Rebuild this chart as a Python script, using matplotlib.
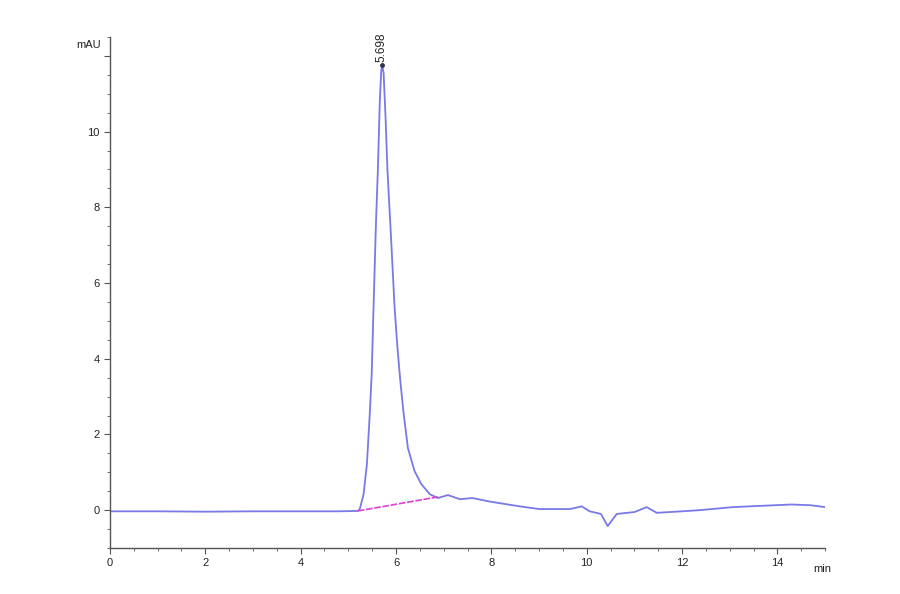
import numpy as np
import matplotlib.pyplot as plt
from matplotlib.ticker import MultipleLocator

t = [0.0, 1.0, 2.0, 3.0, 4.0, 4.8, 5.2, 5.24, 5.32, 5.39, 5.45, 5.49, 5.53,
     5.58, 5.62, 5.66, 5.69, 5.71, 5.74, 5.78, 5.82, 5.9, 5.97, 6.03, 6.09,
     6.16, 6.25, 6.39, 6.53, 6.71, 6.88, 7.09, 7.2, 7.34, 7.6, 8.0,
     8.6, 9.0, 9.65, 9.9, 10.06, 10.3, 10.44, 10.63, 11.0, 11.26, 11.47,
     12.0, 12.37, 13.06, 13.4, 14.3, 14.7, 15.0]
mau = [-0.03, -0.03, -0.04, -0.03, -0.03, -0.03, -0.02, 0.03, 0.42, 1.22,
       2.55, 3.6, 5.4, 7.6, 9.0, 10.8, 11.6, 11.75, 11.55, 10.4, 9.0, 7.1,
       5.36, 4.3, 3.42, 2.55, 1.64, 1.03, 0.69, 0.42, 0.32, 0.4,
       0.35, 0.29, 0.32, 0.22, 0.1, 0.03, 0.03, 0.1, -0.03, -0.1, -0.42,
       -0.1, -0.05, 0.08, -0.07, -0.03, 0.0, 0.08, 0.1, 0.15, 0.13, 0.08]

# linea base de integracion
base_t = [5.2, 6.88]
base_y = [-0.02, 0.35]

pico_t = 5.698
pico_y = 11.75

fig = plt.figure(figsize=(9, 5.94), dpi=100)
ax = fig.add_axes([0.1222, 0.0774, 0.7945, 0.8603])

ax.plot(t, mau, color='#6a6ae6', linewidth=1.3, alpha=0.9)
ax.plot(base_t, base_y, color='#e040d8', linewidth=1.2, linestyle=(0, (4, 1)))
ax.plot([pico_t], [pico_y], marker='o', markersize=2.5, color='#333355')
ax.text(pico_t, pico_y + 0.1, '5.698', rotation=90, ha='center', va='bottom',
        fontsize=8.5, family='Liberation Sans', color='#222222')

ax.set_xlim(0, 15)
ax.set_ylim(-1, 12.5)
ax.xaxis.set_major_locator(MultipleLocator(2))
ax.xaxis.set_minor_locator(MultipleLocator(0.5))
ax.yaxis.set_minor_locator(MultipleLocator(0.5))
ax.set_yticks([0, 2, 4, 6, 8, 10, 12])
ax.set_yticklabels(['0', '2', '4', '6', '8', '10', ''])

for s in ['top', 'right']:
    ax.spines[s].set_visible(False)
for s in ['left', 'bottom']:
    ax.spines[s].set_color('#555555')
    ax.spines[s].set_linewidth(1.0)

ax.tick_params(which='major', length=4, color='#555555', labelsize=8,
               labelcolor='#222222')
ax.tick_params(which='minor', length=2, color='#555555')
for lab in ax.get_xticklabels() + ax.get_yticklabels():
    lab.set_family('Liberation Sans')

ax.text(-0.2, 12.3, 'mAU', ha='right', va='center', fontsize=8,
        family='Liberation Sans', color='#222222')
ax.text(14.75, -1.55, 'min', ha='left', va='center', fontsize=8,
        family='Liberation Sans', color='#222222')

fig.savefig('out.png', dpi=100)
